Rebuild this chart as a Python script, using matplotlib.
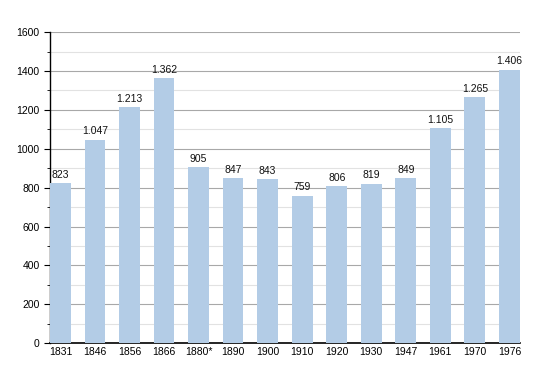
import matplotlib.pyplot as plt
from matplotlib.ticker import MultipleLocator

plt.rcParams["font.family"] = ["Liberation Sans", "DejaVu Sans"]

# Daten
jahre = ["1831", "1846", "1856", "1866", "1880*", "1890", "1900",
         "1910", "1920", "1930", "1947", "1961", "1970", "1976"]
einwohner = [823, 1047, 1213, 1362, 905, 847, 843, 759, 806, 819, 849, 1105, 1265, 1406]

fig = plt.figure(figsize=(5.5, 3.73), dpi=100)
ax = fig.add_axes([0.091, 0.080, 0.854, 0.834])

x = range(len(jahre))
balken = ax.bar(x, einwohner, width=0.6, color="#b3cce6", zorder=3)

for b, v in zip(balken, einwohner):
    txt = f"{v:,}".replace(",", ".")
    ax.text(b.get_x() + b.get_width() / 2, v + 18, txt,
            ha="center", va="bottom", fontsize=7.5, color="#111111", zorder=4)

ax.set_xlim(-0.3, len(jahre) - 0.7)
ax.set_ylim(0, 1600)
ax.yaxis.set_major_locator(MultipleLocator(200))
ax.yaxis.set_minor_locator(MultipleLocator(100))
ax.grid(axis="y", which="major", color="#a8a8a8", linewidth=0.8, zorder=1)
ax.grid(axis="y", which="minor", color="#e2e2e2", linewidth=0.8, zorder=1)
ax.get_ygridlines()[-1].set_color("#d0d0d0")

ax.set_xticks(list(x))
ax.set_xticklabels(jahre, fontsize=7.5)
ax.tick_params(axis="x", length=0, pad=3)
ax.tick_params(axis="y", which="major", labelsize=7.5, length=4, direction="out")
ax.tick_params(axis="y", which="minor", length=2, direction="out")

for s in ["top", "right"]:
    ax.spines[s].set_visible(False)
ax.spines["left"].set_linewidth(1.0)
ax.spines["bottom"].set_linewidth(1.2)

fig.savefig("out.png", dpi=100, facecolor="white")
